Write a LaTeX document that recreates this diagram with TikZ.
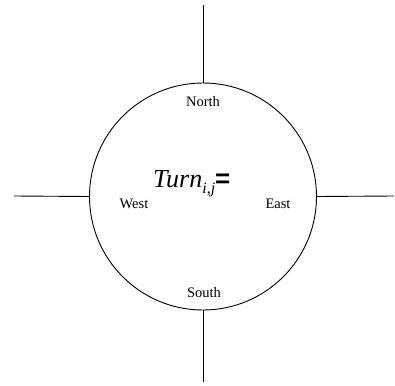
\documentclass[tikz,border=0pt]{standalone}
\usepackage{fontspec}
\setmainfont{Liberation Serif}
\begin{document}
\begin{tikzpicture}[x=1pt,y=-1pt,
  lbl/.style={font=\fontsize{14.5}{15}\selectfont, anchor=base, inner sep=0pt},
  road/.style={draw=black, line width=0.9pt}]
\useasboundingbox (0,0) rectangle (395,385);
\node[draw=black, line width=0.9pt, circle, minimum size=227pt, inner sep=0pt] (c) at (203,196.5) {};
\coordinate (nE) at (203,5);
\coordinate (sE) at (203,382);
\coordinate (wE) at (14,196);
\coordinate (eE) at (394,196);
\draw[road] (c.north) -- (nE);
\draw[road] (c.south) -- (sE);
\draw[road] (c.west) -- (wE);
\draw[road] (c.east) -- (eE);
\node[lbl] (north) at (203,106) {North};
\node[lbl] (south) at (204,297) {South};
\node[lbl] (west) at (134,208) {West};
\node[lbl] (east) at (278,208) {East};
\node[anchor=base west, inner sep=0pt, font=\fontsize{26}{26}\selectfont] (turn) at (153,187)
  {\itshape Turn\raisebox{-6pt}{\fontsize{16}{16}\selectfont i,j}\upshape\fontspec{Liberation Sans}\bfseries =};
\end{tikzpicture}
\end{document}
